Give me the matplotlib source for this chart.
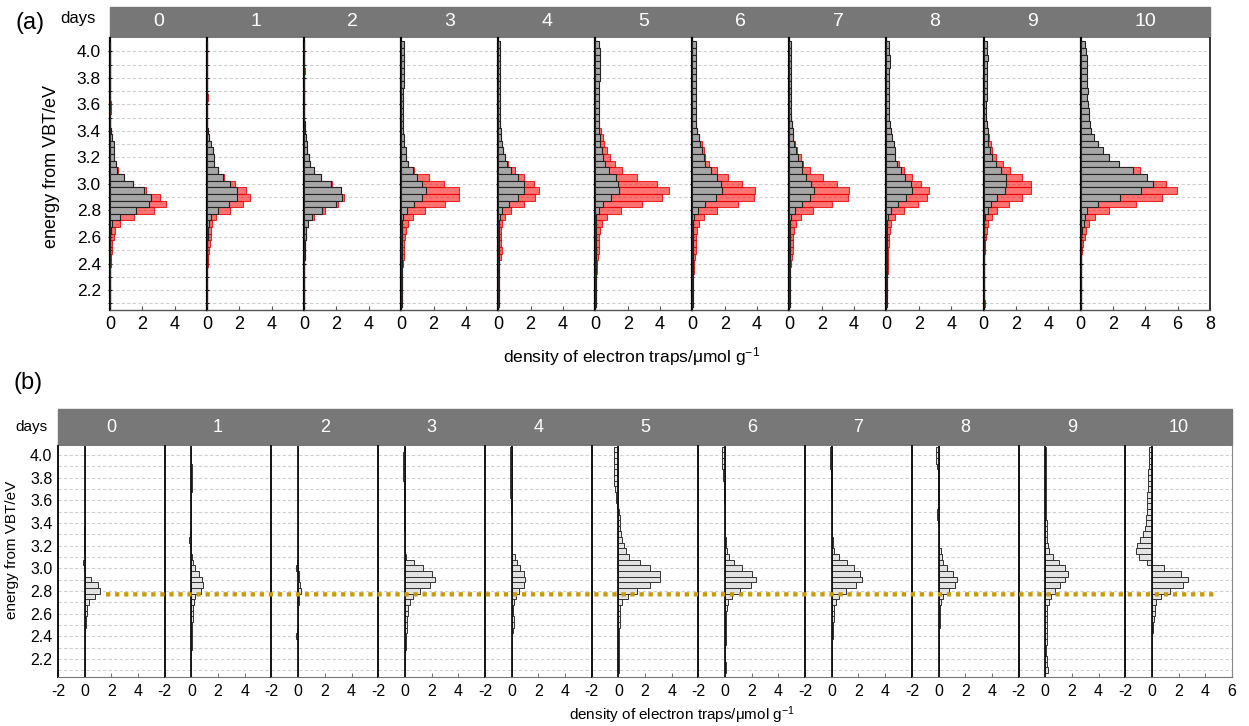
import numpy as np
import matplotlib
matplotlib.use("Agg")
import matplotlib.pyplot as plt
from matplotlib.patches import Rectangle, ConnectionPatch

plt.rcParams['font.family'] = ['Liberation Sans', 'DejaVu Sans']
plt.rcParams['mathtext.fontset'] = 'custom'
plt.rcParams['mathtext.rm'] = 'Liberation Sans'
plt.rcParams['mathtext.default'] = 'regular'
plt.rcParams['axes.unicode_minus'] = False

days = ['0', '1', '2', '3', '4', '5', '6', '7', '8', '9', '10']

# bin centres (eV), top to bottom
energy = [4.05, 4.00, 3.95, 3.90, 3.85, 3.80, 3.75, 3.70, 3.65, 3.60,
          3.55, 3.50, 3.45, 3.40, 3.35, 3.30, 3.25, 3.20, 3.15, 3.10,
          3.05, 3.00, 2.95, 2.90, 2.85, 2.80, 2.75, 2.70, 2.65, 2.60,
          2.55, 2.50, 2.45, 2.40, 2.35, 2.30, 2.25, 2.20, 2.15, 2.10]

# (a) grey histograms
gray_a = [
    [0, 0, 0, 0, 0, 0, 0, 0, 0, 0,
     0, 0, 0.03, 0.08, 0.15, 0.25, 0.25, 0.25, 0.35, 0.45,
     0.85, 1.4, 2.1, 2.55, 2.4, 1.6, 0.6, 0.15, 0.05, 0.03,
     0.02, 0.02, 0, 0, 0, 0, 0, 0, 0, 0],
    [0, 0, 0, 0, 0, 0, 0, 0, 0, 0,
     0, 0, 0, 0.05, 0.15, 0.25, 0.35, 0.4, 0.45, 0.65,
     1.0, 1.4, 1.85, 1.85, 1.35, 0.7, 0.25, 0.1, 0.05, 0.03,
     0.02, 0.02, 0.02, 0, 0, 0, 0, 0, 0, 0],
    [0, 0, 0, 0, 0, 0, 0, 0, 0, 0,
     0, 0, 0.03, 0.05, 0.1, 0.15, 0.2, 0.3, 0.35, 0.6,
     1.05, 1.65, 2.25, 2.35, 2.0, 1.1, 0.5, 0.25, 0.1, 0.1,
     0.08, 0.05, 0.05, 0.02, 0.02, 0.02, 0, 0, 0, 0],
    [0.15, 0.15, 0.15, 0.15, 0.15, 0.15, 0.15, 0.1, 0.1, 0.1,
     0.1, 0.1, 0.1, 0.1, 0.15, 0.2, 0.3, 0.3, 0.45, 0.7,
     1.0, 1.3, 1.55, 1.3, 0.8, 0.35, 0.1, 0.05, 0.03, 0.03,
     0.03, 0.02, 0.02, 0.02, 0.02, 0.02, 0.02, 0.02, 0.02, 0.02],
    [0.12, 0.12, 0.12, 0.12, 0.12, 0.12, 0.12, 0.12, 0.12, 0.12,
     0.12, 0.1, 0.1, 0.15, 0.2, 0.25, 0.3, 0.4, 0.55, 0.8,
     1.2, 1.6, 1.6, 1.25, 0.65, 0.25, 0.1, 0.05, 0.03, 0.03,
     0.03, 0.03, 0.03, 0.03, 0.03, 0.03, 0.03, 0.03, 0.03, 0.03],
    [0.25, 0.3, 0.3, 0.3, 0.28, 0.3, 0.25, 0.22, 0.2, 0.2,
     0.2, 0.2, 0.2, 0.25, 0.3, 0.3, 0.4, 0.5, 0.6, 0.85,
     1.25, 1.4, 1.45, 1.0, 0.5, 0.2, 0.05, 0.03, 0.02, 0.02,
     0.02, 0.02, 0.02, 0.02, 0.02, 0.02, 0.02, 0.02, 0.02, 0.02],
    [0.2, 0.2, 0.2, 0.2, 0.2, 0.2, 0.2, 0.2, 0.2, 0.2,
     0.2, 0.2, 0.25, 0.3, 0.4, 0.5, 0.6, 0.7, 0.8, 1.15,
     1.5, 1.8, 1.85, 1.45, 0.8, 0.35, 0.1, 0.05, 0.02, 0.02,
     0.02, 0.02, 0.02, 0.02, 0.02, 0.02, 0.02, 0.02, 0.02, 0.02],
    [0.1, 0.1, 0.1, 0.1, 0.1, 0.1, 0.1, 0.1, 0.1, 0.1,
     0.1, 0.1, 0.15, 0.2, 0.25, 0.3, 0.4, 0.55, 0.8, 0.8,
     1.05, 1.35, 1.5, 1.25, 0.8, 0.35, 0.1, 0.05, 0.02, 0.02,
     0.02, 0.02, 0.02, 0.02, 0.02, 0.02, 0.02, 0.02, 0.02, 0.02],
    [0.15, 0.15, 0.2, 0.2, 0.15, 0.15, 0.15, 0.15, 0.15, 0.15,
     0.15, 0.15, 0.2, 0.3, 0.35, 0.45, 0.5, 0.55, 0.65, 0.9,
     1.15, 1.5, 1.6, 1.2, 0.7, 0.3, 0.1, 0.05, 0.03, 0.03,
     0.03, 0.03, 0.03, 0.03, 0.03, 0.03, 0.03, 0.03, 0.03, 0.03],
    [0.2, 0.2, 0.25, 0.2, 0.2, 0.2, 0.2, 0.2, 0.2, 0.15,
     0.15, 0.15, 0.2, 0.25, 0.3, 0.3, 0.4, 0.55, 0.8, 1.1,
     1.4, 1.4, 1.35, 0.85, 0.45, 0.3, 0.1, 0.05, 0.02, 0.02,
     0.02, 0.02, 0.02, 0.02, 0.02, 0.02, 0.02, 0.02, 0.02, 0.02],
    [0.3, 0.35, 0.4, 0.4, 0.4, 0.4, 0.4, 0.45, 0.4, 0.45,
     0.5, 0.5, 0.6, 0.65, 0.85, 1.1, 1.4, 1.75, 2.4, 3.25,
     4.1, 4.45, 3.75, 2.45, 1.1, 0.4, 0.3, 0.2, 0.1, 0.05,
     0.03, 0.02, 0.02, 0.02, 0.02, 0.02, 0.02, 0.02, 0.02, 0.02],
]

# (a) red histograms
red_a = [
    [0, 0, 0, 0, 0, 0, 0, 0, 0, 0.05,
     0.05, 0.02, 0.03, 0.05, 0.1, 0.2, 0.2, 0.25, 0.3, 0.5,
     0.85, 1.45, 2.2, 3.1, 3.45, 2.75, 1.5, 0.6, 0.3, 0.25,
     0.15, 0.1, 0.05, 0.05, 0.03, 0.03, 0.02, 0.02, 0.02, 0.02],
    [0, 0, 0, 0, 0, 0, 0, 0, 0.05, 0,
     0, 0, 0, 0.05, 0.1, 0.2, 0.3, 0.35, 0.4, 0.7,
     1.05, 1.75, 2.4, 2.65, 2.25, 1.4, 0.55, 0.3, 0.25, 0.25,
     0.2, 0.1, 0.05, 0.03, 0.02, 0.02, 0.02, 0.02, 0.02, 0.02],
    [0, 0, 0, 0, 0.05, 0, 0, 0, 0, 0,
     0, 0, 0.02, 0.05, 0.1, 0.15, 0.2, 0.3, 0.35, 0.6,
     1.05, 1.7, 2.3, 2.45, 2.1, 1.3, 0.6, 0.25, 0.1, 0.1,
     0.08, 0.05, 0.05, 0.02, 0.02, 0.02, 0.02, 0.02, 0.02, 0.02],
    [0.05, 0.05, 0.05, 0.05, 0.05, 0.05, 0.05, 0.05, 0.05, 0.05,
     0.05, 0.05, 0.05, 0.05, 0.1, 0.15, 0.25, 0.3, 0.45, 0.8,
     1.7, 2.65, 3.55, 3.55, 2.7, 1.5, 0.7, 0.4, 0.3, 0.25,
     0.2, 0.2, 0.2, 0.1, 0.05, 0.05, 0.05, 0.05, 0.05, 0.05],
    [0.05, 0.05, 0.05, 0.05, 0.05, 0.05, 0.05, 0.05, 0.05, 0.05,
     0.05, 0.05, 0.1, 0.1, 0.15, 0.2, 0.3, 0.4, 0.6, 1.05,
     1.6, 2.2, 2.5, 2.25, 1.6, 0.8, 0.4, 0.25, 0.15, 0.15,
     0.2, 0.25, 0.15, 0.05, 0.03, 0.03, 0.03, 0.03, 0.03, 0.03],
    [0.08, 0.08, 0.08, 0.08, 0.08, 0.08, 0.08, 0.08, 0.08, 0.08,
     0.1, 0.15, 0.25, 0.35, 0.45, 0.55, 0.7, 0.9, 1.2, 1.65,
     2.6, 3.8, 4.55, 4.15, 2.9, 1.6, 0.75, 0.4, 0.3, 0.25,
     0.2, 0.2, 0.15, 0.1, 0.1, 0.05, 0.05, 0.05, 0.05, 0.05],
    [0.05, 0.05, 0.05, 0.05, 0.05, 0.05, 0.05, 0.05, 0.05, 0.05,
     0.1, 0.15, 0.2, 0.3, 0.4, 0.6, 0.7, 0.8, 1.0, 1.5,
     2.2, 3.1, 3.9, 3.8, 2.8, 1.55, 0.7, 0.4, 0.3, 0.25,
     0.2, 0.2, 0.15, 0.1, 0.1, 0.05, 0.05, 0.05, 0.05, 0.05],
    [0.05, 0.05, 0.05, 0.05, 0.05, 0.05, 0.05, 0.05, 0.05, 0.05,
     0.05, 0.1, 0.15, 0.2, 0.25, 0.35, 0.5, 0.7, 0.85, 1.3,
     2.05, 2.95, 3.7, 3.6, 2.65, 1.45, 0.7, 0.4, 0.3, 0.25,
     0.25, 0.2, 0.15, 0.1, 0.05, 0.05, 0.05, 0.05, 0.05, 0.05],
    [0.05, 0.05, 0.05, 0.05, 0.05, 0.05, 0.05, 0.05, 0.05, 0.05,
     0.1, 0.1, 0.15, 0.25, 0.3, 0.4, 0.45, 0.55, 0.75, 1.1,
     1.6, 2.15, 2.65, 2.5, 1.95, 1.1, 0.5, 0.3, 0.2, 0.15,
     0.15, 0.1, 0.1, 0.1, 0.1, 0.05, 0.05, 0.05, 0.05, 0.05],
    [0.05, 0.05, 0.05, 0.05, 0.05, 0.05, 0.05, 0.05, 0.05, 0.05,
     0.1, 0.15, 0.2, 0.3, 0.35, 0.45, 0.55, 0.8, 1.2, 1.65,
     2.4, 2.95, 2.95, 2.35, 1.55, 0.85, 0.5, 0.3, 0.2, 0.15,
     0.1, 0.1, 0.05, 0.05, 0.05, 0.05, 0.05, 0.05, 0.05, 0.1],
    [0.1, 0.1, 0.1, 0.1, 0.1, 0.1, 0.1, 0.1, 0.1, 0.1,
     0.1, 0.1, 0.1, 0.2, 0.3, 0.5, 0.8, 1.2, 1.8, 3.7,
     4.0, 5.25, 5.95, 5.05, 3.4, 1.75, 0.9, 0.5, 0.35, 0.25,
     0.15, 0.1, 0.05, 0.05, 0.03, 0.03, 0.03, 0.03, 0.03, 0.03],
]

# (b) difference histograms
diff_b = [
    [0, 0, 0, 0, 0, 0, 0, 0, 0, 0.03,
     0.03, 0.03, 0, 0, -0.03, -0.05, -0.05, -0.03, -0.05, 0,
     -0.15, -0.05, 0.05, 0.5, 1.0, 1.15, 0.75, 0.35, 0.2, 0.15,
     0.1, 0.1, 0.05, 0.05, 0.02, 0.02, 0, 0, 0, 0],
    [0, 0, 0, 0.03, 0.03, 0.03, 0.03, 0.03, 0, 0,
     0, 0, 0, 0, -0.05, -0.1, -0.2, -0.1, -0.05, 0.05,
     0.1, 0.3, 0.55, 0.8, 0.9, 0.7, 0.3, 0.2, 0.15, 0.1,
     0.1, 0.05, 0.03, 0.03, 0.02, 0.02, 0, 0, 0, 0],
    [0, 0, 0, 0, 0, 0, 0, 0, 0, 0,
     0, 0, 0, 0, 0, 0, 0, 0, 0, 0,
     -0.1, -0.15, 0.05, 0.1, 0.15, 0.2, 0.1, 0.05, 0, 0,
     0, 0, -0.1, -0.15, 0, 0, 0, 0, 0, 0],
    [-0.1, -0.15, -0.15, -0.15, -0.15, -0.15, -0.1, -0.1, -0.1, -0.1,
     -0.1, -0.05, -0.05, -0.05, -0.05, 0, 0, 0, 0, 0.1,
     0.7, 1.35, 2.0, 2.25, 1.9, 1.15, 0.6, 0.35, 0.25, 0.2,
     0.15, 0.15, 0.15, 0.1, 0.05, 0.05, 0.03, 0.03, 0.03, 0.03],
    [-0.1, -0.1, -0.1, -0.1, -0.1, -0.1, -0.1, -0.1, -0.1, -0.05,
     -0.05, -0.05, 0, 0, 0, 0, 0, 0, 0.05, 0.25,
     0.4, 0.6, 0.9, 1.0, 0.95, 0.55, 0.3, 0.2, 0.12, 0.12,
     0.15, 0.2, 0.12, 0.03, 0, 0, 0, 0, 0, 0],
    [-0.3, -0.35, -0.35, -0.35, -0.3, -0.35, -0.3, -0.25, -0.2, -0.15,
     -0.1, 0.05, 0.1, 0.1, 0.15, 0.2, 0.25, 0.4, 0.6, 0.8,
     1.6, 2.4, 3.1, 3.15, 2.4, 1.4, 0.7, 0.25, 0.15, 0.1,
     0.1, 0.1, 0.05, 0.05, 0.05, 0.03, 0.03, 0.03, 0.03, 0.03],
    [-0.25, -0.25, -0.2, -0.2, -0.15, -0.15, -0.1, -0.1, -0.05, -0.05,
     0, 0, 0, 0, 0.03, 0.03, 0.05, 0.05, 0.15, 0.3,
     0.65, 1.25, 2.0, 2.3, 1.95, 1.1, 0.5, 0.25, 0.15, 0.1,
     0.1, 0.08, 0.05, 0.05, 0.05, 0.03, 0.03, 0.03, 0.05, 0.05],
    [-0.1, -0.1, -0.1, -0.1, -0.08, -0.05, -0.05, -0.03, -0.03, 0,
     0, 0, 0.03, 0.03, 0.05, 0.05, 0.08, 0.1, 0.2, 0.55,
     1.15, 1.7, 2.15, 2.25, 1.85, 1.05, 0.55, 0.3, 0.2, 0.15,
     0.15, 0.12, 0.1, 0.08, 0.05, 0.05, 0.05, 0.05, 0.05, 0.05],
    [-0.2, -0.2, -0.15, -0.1, -0.05, -0.05, -0.03, -0.03, -0.03, -0.03,
     -0.05, -0.1, -0.1, -0.05, 0, 0, 0, 0.05, 0.15, 0.25,
     0.35, 0.65, 1.05, 1.35, 1.2, 0.75, 0.35, 0.2, 0.12, 0.1,
     0.1, 0.08, 0.05, 0.05, 0.05, 0.03, 0.03, 0.03, 0.03, 0.03],
    [0.03, 0.03, 0.03, 0.05, 0.05, 0.05, 0.03, 0.03, 0.03, 0.03,
     0.05, 0.05, 0.08, 0.1, 0.12, 0.15, 0.15, 0.2, 0.3, 0.6,
     1.0, 1.45, 1.7, 1.5, 1.1, 0.7, 0.4, 0.25, 0.15, 0.12,
     0.1, 0.1, 0.1, 0.1, 0.1, 0.08, 0.08, 0.1, 0.15, 0.2],
    [-0.2, -0.2, -0.25, -0.25, -0.3, -0.3, -0.3, -0.3, -0.35, -0.35,
     -0.4, -0.4, -0.45, -0.45, -0.5, -0.7, -0.9, -1.1, -1.2, -1.0,
     -0.35, 0.9, 2.2, 2.7, 2.3, 1.35, 0.65, 0.3, 0.2, 0.2,
     0.15, 0.1, 0.05, 0.03, 0.02, 0.02, 0.02, 0.02, 0.03, 0.03],
]

trap_line = 2.77   # dotted reference level in (b)

W, H = 1249, 726
fig = plt.figure(figsize=(W / 100, H / 100), dpi=100)


def fbox(x0, y0, x1, y1):
    # pixel box (top-left origin) -> figure rect
    return [x0 / W, 1 - y1 / H, (x1 - x0) / W, (y1 - y0) / H]


grid_y = [2.1, 2.2, 2.3, 2.4, 2.5, 2.6, 2.7, 2.8, 2.9, 3.0,
          3.1, 3.2, 3.3, 3.4, 3.5, 3.6, 3.7, 3.8, 3.9, 4.0]
label_y = [2.2, 2.4, 2.6, 2.8, 3.0, 3.2, 3.4, 3.6, 3.8, 4.0]

# ---------------- panel (a) ----------------
a_l, a_r, a_t, a_b = 110, 1210, 38, 310
span_a = [6] * 10 + [8]
px_unit = (a_r - a_l) / sum(span_a)
x0 = a_l
for i, d in enumerate(days):
    w = span_a[i] * px_unit
    ax = fig.add_axes(fbox(x0, a_t, x0 + w, a_b))
    x0 += w
    ax.barh(energy, red_a[i], height=0.05, color=(1, 0, 0, 0.55),
            edgecolor=(0.9, 0, 0, 0.8), lw=0.8, zorder=2)
    ax.barh(energy, gray_a[i], height=0.05, color='#a6a6a6',
            edgecolor='#222222', lw=0.8, zorder=3)
    ax.set_xlim(0, span_a[i])
    ax.set_ylim(2.05, 4.1)
    ax.set_yticks(label_y)
    ax.set_yticks(grid_y, minor=True)
    ax.grid(axis='y', which='both', ls=(0, (3, 2)), color='#d0d0d0', lw=0.8, zorder=1)
    ax.set_xticks(range(0, span_a[i] + 1, 2) if i == 10 else [0, 2, 4])
    ax.tick_params(axis='x', labelsize=13, length=3, direction='in', color='#555555', pad=4)
    ax.tick_params(axis='y', which='both', length=3, direction='inout', color='black', labelsize=12.5, pad=5)
    if i > 0:
        ax.tick_params(axis='y', labelleft=False)
    for s in ['top', 'right']:
        ax.spines[s].set_visible(False)
    ax.spines['left'].set_color('black')
    ax.spines['left'].set_linewidth(1.6)
    ax.spines['bottom'].set_color('#555555')
    ax.spines['bottom'].set_linewidth(1.0)
    if i == 10:
        ax.spines['right'].set_visible(True)
        ax.spines['right'].set_color('#333333')
        ax.spines['right'].set_linewidth(1.4)
    fig.text((x0 - w / 2) / W, 1 - 22 / H, d, color='white', fontsize=14,
             ha='center', va='center')

fig.add_artist(Rectangle((a_l / W, 1 - 37 / H), (a_r - a_l) / W, 30 / H,
                         transform=fig.transFigure, color='#777777', zorder=0))
fig.text(30 / W, 1 - 23 / H, '(a)', fontsize=17, ha='center', va='center')
fig.text(78 / W, 1 - 19 / H, 'days', fontsize=12, ha='center', va='center')
fig.text(52 / W, 1 - 166 / H, 'energy from VBT/eV', fontsize=13, rotation=90,
         ha='center', va='center')
fig.text(632 / W, 1 - 357 / H, 'density of electron traps/μmol g$^{-1}$',
         fontsize=12.5, ha='center', va='center')

# ---------------- panel (b) ----------------
b_l, b_r, b_t, b_b = 58, 1232, 446, 677
wb = (b_r - b_l) / 11
axes_b = []
for i, d in enumerate(days):
    xl = b_l + i * wb
    ax = fig.add_axes(fbox(xl, b_t, xl + wb, b_b))
    axes_b.append(ax)
    ax.barh(energy, diff_b[i], height=0.05, color='#e2e2e2',
            edgecolor='#333333', lw=0.7, zorder=3)
    ax.axvline(0, color='#111111', lw=1.3, zorder=4)
    ax.set_xlim(-2, 6)
    ax.set_ylim(2.04, 4.08)
    ax.set_yticks(label_y)
    ax.set_yticks(grid_y, minor=True)
    ax.grid(axis='y', which='both', ls=(0, (3, 2)), color='#d0d0d0', lw=0.8, zorder=1)
    ax.set_xticks([-2, 0, 2, 4, 6] if i == 10 else [-2, 0, 2, 4])
    ax.tick_params(axis='x', labelsize=11.5, length=3, direction='in', color='#777777', pad=5)
    ax.tick_params(axis='y', which='both', length=0, labelsize=11.5, pad=4)
    if i > 0:
        ax.tick_params(axis='y', labelleft=False)
    ax.spines['top'].set_visible(False)
    ax.spines['right'].set_visible(i == 10)
    ax.spines['right'].set_color('#888888')
    ax.spines['left'].set_color('#111111')
    ax.spines['left'].set_linewidth(1.4)
    ax.spines['bottom'].set_color('#777777')
    fig.text((xl + wb / 2) / W, 1 - 427 / H, d, color='white', fontsize=13,
             ha='center', va='center')

fig.add_artist(Rectangle((b_l / W, 1 - 445 / H), (b_r - b_l) / W, 36 / H,
                         transform=fig.transFigure, color='#787878', zorder=0))
fig.text(28 / W, 1 - 383 / H, '(b)', fontsize=17, ha='center', va='center')
fig.text(31 / W, 1 - 427 / H, 'days', fontsize=11, ha='center', va='center')
fig.text(12 / W, 1 - 550 / H, 'energy from VBT/eV', fontsize=11, rotation=90,
         ha='center', va='center')
fig.text(682 / W, 1 - 715 / H, 'density of electron traps/μmol g$^{-1}$',
         fontsize=11, ha='center', va='center')

# dotted reference line across all (b) panels
dots = ConnectionPatch(xyA=(1.6, trap_line), coordsA=axes_b[0].transData,
                       xyB=(4.7, trap_line), coordsB=axes_b[-1].transData,
                       color='#c89b00', lw=3.1, linestyle=(0, (1.0, 1.1)),
                       capstyle='butt')
fig.add_artist(dots)

fig.savefig('out.png', dpi=100)
